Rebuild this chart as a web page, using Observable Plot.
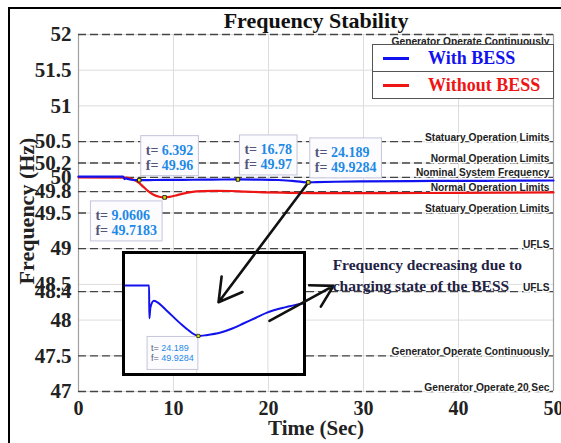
<!DOCTYPE html>
<html><head><meta charset="utf-8">
<script src="https://cdn.jsdelivr.net/npm/d3@7"></script>
<script src="https://cdn.jsdelivr.net/npm/@observablehq/plot@0.6"></script>
<style>
html,body{margin:0;padding:0;background:#fff;}
#wrap{position:relative;width:561px;height:443px;overflow:hidden;background:#fff;}
#wrap > svg{position:absolute;left:0;top:0;}
#frame{position:absolute;left:8px;top:7px;width:700px;height:600px;border-left:2px solid #000;border-top:2px solid #000;}
#legend{position:absolute;left:372px;top:44px;width:180px;background:#fff;border:1px solid #555;font-family:"Liberation Serif",serif;font-weight:bold;font-size:18px;}
#legend .row{height:26px;display:flex;align-items:center;}
#legend .row + .row{border-top:1px solid #555;}
#legend .sw{display:inline-block;width:26px;height:3px;margin-left:10px;margin-right:19px;}
#inset{position:absolute;left:122px;top:251px;width:178px;height:119px;border:3px solid #000;background:#fff;}
#inset svg{display:block;}
#overlay{position:absolute;left:0;top:0;pointer-events:none;}
</style>
</head><body>
<div id="wrap"><div id="frame"></div></div>
<script>
// ---------- data ----------
const titleText = "Frequency Stability";
const xLabel = "Time (Sec)";
const yLabel = "Frequency (Hz)";
const xTicks = [0, 10, 20, 30, 40, 50];
const yTicks = [52, 51.5, 51, 50.5, 50.2, 50, 49.8, 49.5, 49, 48.5, 48.4, 48, 47.5, 47];
const limitF = [52, 50.5, 50.2, 50, 49.8, 49.5, 49, 48.4, 47.5, 47];
const limitLabels = ["Generator Operate Continuously", "Statuary Operation Limits", "Normal Operation Limits",
  "Nominal System Frequency", "Normal Operation Limits", "Statuary Operation Limits", "UFLS", "UFLS",
  "Generator Operate Continuously", "Generator Operate 20 Sec"];
const seriesNames = ["With BESS", "Without BESS"];
const seriesColors = ["#1212ee", "#ee1515"];
const blueT = [0, 4.7, 4.85, 5.0, 5.3, 5.8, 6.392, 8, 10, 12, 14, 16.78, 19, 21, 22.5, 23.5, 24.189, 25, 27, 30, 35, 40, 45, 50];
const blueF = [50.01, 50.01, 49.975, 49.985, 49.972, 49.962, 49.96, 49.962, 49.964, 49.966, 49.968, 49.97, 49.968, 49.962, 49.95, 49.935, 49.9284, 49.932, 49.938, 49.943, 49.947, 49.95, 49.952, 49.955];
const redT = [0, 5.0, 5.8, 6.3, 6.8, 7.3, 7.9, 8.5, 9.0606, 9.6, 10.2, 11, 12, 13, 14.5, 16, 17.5, 19.5, 22, 26, 32, 40, 50];
const redF = [50.0, 49.995, 49.965, 49.93, 49.87, 49.81, 49.755, 49.727, 49.7183, 49.725, 49.745, 49.772, 49.795, 49.805, 49.81, 49.808, 49.8, 49.79, 49.783, 49.779, 49.778, 49.782, 49.788];
const tipT = [6.392, 16.78, 24.189, 9.0606];
const tipF = [49.96, 49.97, 49.9284, 49.7183];
const insetT = [16.0, 18.65, 18.68, 18.8, 19.2, 19.54, 20.64, 22.3, 23.4, 24.189, 25.06, 26.7, 28.0, 29.3, 30.6, 31.9, 33.9, 36.0];
const insetF = [49.9666, 49.9666, 49.9417, 49.950, 49.955, 49.954, 49.9475, 49.937, 49.931, 49.9284, 49.929, 49.931, 49.934, 49.938, 49.942, 49.946, 49.950, 49.953];
const insetTipT = 24.189, insetTipF = 49.9284;
const noteText = "Frequency decreasing due to\ncharging state of the BESS";
const noteT = 26.75, noteF = 48.65;
const arrowFromT = [24.189, 20.1], arrowFromF = [49.9284, 47.99];
const arrowToT = [14.74, 26.84], arrowToF = [48.25, 48.48];

// ---------- build ----------
const W = 561, H = 443;
const M = {marginLeft: 78, marginRight: 8, marginTop: 34, marginBottom: 52};
const SERIF = "Liberation Serif";
const SANS = "Liberation Sans";
const blue = blueT.map((t, i) => ({t, f: blueF[i]}));
const red = redT.map((t, i) => ({t, f: redF[i]}));
const limits = limitF.map((f, i) => ({f, label: limitLabels[i]}));
const tips = tipT.map((t, i) => ({t, f: tipF[i]}));
const insetData = insetT.map((t, i) => ({t, f: insetF[i]}));
const arrows = arrowFromT.map((t, i) => ({x1: t, y1: arrowFromF[i], x2: arrowToT[i], y2: arrowToF[i]}));

const labelStyle = {fontFamily: SANS, fontWeight: "bold", fontSize: 10.2, fill: "#222", stroke: "white", strokeWidth: 3, paintOrder: "stroke", frameAnchor: "right", textAnchor: "end", dx: -4};

const main = Plot.plot({
  width: W, height: H, ...M,
  x: {domain: [0, 50]},
  y: {domain: [47, 52]},
  style: {fontFamily: SERIF, fontWeight: "bold", background: "transparent"},
  marks: [
    Plot.gridX(xTicks.filter(d => d > 0 && d < 50), {stroke: "#dcdcdc", strokeOpacity: 1}),
    Plot.gridY(yTicks, {stroke: "#dcdcdc", strokeOpacity: 1}),
    Plot.ruleX([0, 50], {stroke: "#a0a0a0", strokeWidth: 1.2}),
    Plot.ruleY(limitF, {stroke: "#444", strokeDasharray: "8,4", strokeWidth: 1.3}),
    Plot.text(limits.filter(d => d.f !== 52), {y: "f", text: "label", lineAnchor: "bottom", dy: -1, ...labelStyle}),
    Plot.text(limits.filter(d => d.f === 52), {y: "f", text: "label", lineAnchor: "top", dy: 3, ...labelStyle}),
    Plot.line(red, {x: "t", y: "f", stroke: seriesColors[1], strokeWidth: 2.2, curve: "monotone-x"}),
    Plot.line(blue, {x: "t", y: "f", stroke: seriesColors[0], strokeWidth: 2.2, curve: "monotone-x"}),
    Plot.axisY(yTicks, {tickSize: 0, tickPadding: 7, tickFormat: d => String(d), fontSize: 21, fontFamily: SERIF, fontWeight: "bold", fill: "#222", label: null}),
    Plot.axisX(xTicks, {tickSize: 0, tickPadding: 9, tickFormat: d => String(d), fontSize: 20, fontFamily: SERIF, fontWeight: "bold", fill: "#222", label: null}),
    Plot.text([titleText], {frameAnchor: "top", lineAnchor: "middle", textAnchor: "middle", dy: -14, fontSize: 22, fontFamily: SERIF, fontWeight: "bold", fill: "#111"}),
    Plot.text([xLabel], {frameAnchor: "bottom", lineAnchor: "middle", textAnchor: "middle", dy: 37, fontSize: 21, fontFamily: SERIF, fontWeight: "bold", fill: "#222"}),
    Plot.text([yLabel], {frameAnchor: "left", lineAnchor: "middle", textAnchor: "middle", dx: -52, dy: -2, rotate: -90, fontSize: 22, fontFamily: SERIF, fontWeight: "bold", fill: "#222"})
  ]
});
const wrap = document.getElementById("wrap");
wrap.appendChild(main);

// legend
const legend = document.createElement("div");
legend.id = "legend";
seriesNames.forEach((name, i) => {
  const row = document.createElement("div");
  row.className = "row";
  const sw = document.createElement("span");
  sw.className = "sw"; sw.style.background = seriesColors[i];
  const lab = document.createElement("span");
  lab.textContent = name; lab.style.color = seriesColors[i];
  row.appendChild(sw); row.appendChild(lab);
  legend.appendChild(row);
});
wrap.appendChild(legend);

// inset
const insetDiv = document.createElement("div");
insetDiv.id = "inset";
wrap.appendChild(insetDiv);
const inset = Plot.plot({
  width: 178, height: 119, margin: 0,
  x: {domain: [16, 36], axis: null},
  y: {domain: [49.9, 49.99], axis: null},
  style: {background: "transparent"},
  marks: [
    Plot.gridX([24, 32], {stroke: "#dcdcdc", strokeOpacity: 1}),
    Plot.line(insetData, {x: "t", y: "f", stroke: seriesColors[0], strokeWidth: 2, curve: "monotone-x"}),
    Plot.dot([{t: insetTipT, f: insetTipF}], {x: "t", y: "f", r: 1.8, fill: "#e8e800", stroke: "#222", strokeWidth: 0.8, symbol: "square"})
  ]
});
insetDiv.appendChild(inset);

// overlay: arrows, note, tip markers
const overlay = Plot.plot({
  width: W, height: H, ...M,
  x: {domain: [0, 50], axis: null},
  y: {domain: [47, 52], axis: null},
  style: {background: "transparent"},
  marks: [
    Plot.arrow(arrows, {x1: "x1", y1: "y1", x2: "x2", y2: "y2", stroke: "#111", strokeWidth: 2.6, headLength: 15}),
    Plot.text([noteText], {x: noteT, y: noteF, textAnchor: "start", lineAnchor: "middle", lineHeight: 1.4, fontSize: 15.5, fontFamily: SERIF, fontWeight: "bold", fill: "#222244"}),
    Plot.dot(tips, {x: "t", y: "f", r: 2, fill: "#e8e800", stroke: "#222", strokeWidth: 1, symbol: "square"})
  ]
});
overlay.id = "overlay";
wrap.appendChild(overlay);

function drawTip(svg, px, py, t, f, place, o) {
  const g = d3.select(svg).append("g").attr("text-anchor", "start");
  const rect = g.append("rect").attr("fill", "#fcfcff").attr("stroke", "#c4c4dc").attr("stroke-width", 1);
  const lines = [["t= ", String(t)], ["f= ", String(f)]];
  const texts = lines.map(([p, v]) => {
    const tx = g.append("text").attr("text-anchor", "start").attr("font-family", o.font).attr("font-weight", o.weight)
      .attr("font-size", o.size);
    tx.append("tspan").attr("fill", "#55557a").text(p);
    tx.append("tspan").attr("fill", "#1e8ae6").text(v);
    return tx;
  });
  const tw = Math.max(...texts.map(tx => tx.node().getComputedTextLength()));
  const w = tw + 2 * o.padX, h = o.h;
  const x0 = place === "ur" ? px + o.gap : px - o.gap - w;
  const y0 = place === "ur" ? py - o.gapY - h : py + o.gapY;
  rect.attr("x", x0).attr("y", y0).attr("width", w).attr("height", h);
  texts.forEach((tx, i) => tx.attr("x", x0 + o.padX).attr("y", y0 + o.base[i]));
}
const sx = overlay.scale("x"), sy = overlay.scale("y");
const tipPlace = ["ur", "ur", "ur", "dl"];
const bigTip = {font: SERIF, weight: "bold", size: 14, padX: 5, h: 40, gap: 2, gapY: 4, base: [19, 34]};
tips.forEach((d, i) => drawTip(overlay, sx.apply(d.t), sy.apply(d.f), d.t, d.f, tipPlace[i], bigTip));
d3.select(overlay).selectAll("g[aria-label='dot']").raise();

const ix = inset.scale("x"), iy = inset.scale("y");
drawTip(inset, ix.apply(insetTipT), iy.apply(insetTipF), insetTipT, insetTipF, "dl",
  {font: SANS, weight: "normal", size: 9, padX: 4, h: 33, gap: 0, gapY: 1, base: [14.5, 25]});
d3.select(inset).selectAll("g[aria-label='dot']").raise();
</script>
</body></html>
